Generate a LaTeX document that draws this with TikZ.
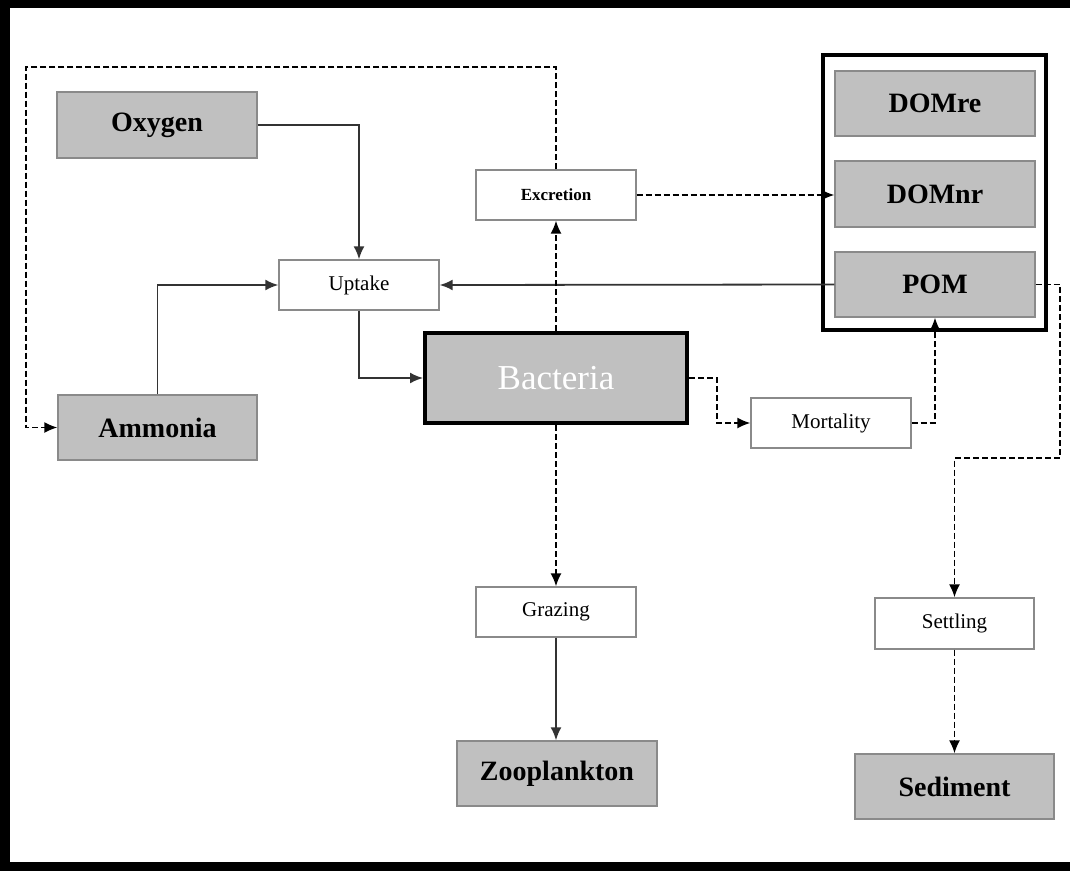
\documentclass[tikz,border=0pt]{standalone}
\usepackage{fontspec}
\setmainfont{Liberation Serif}
\usetikzlibrary{arrows.meta}
\definecolor{boxgray}{HTML}{C0C0C0}
\definecolor{edgegray}{HTML}{8A8A8A}
\definecolor{linegray}{HTML}{333333}
\tikzset{
  pool/.style={draw=edgegray, line width=1.4pt, fill=boxgray, inner sep=0pt,
    font=\fontsize{28}{30}\selectfont\bfseries},
  proc/.style={draw=edgegray, line width=1.4pt, fill=white, inner sep=0pt,
    minimum width=160pt, minimum height=50pt, font=\fontsize{21}{23}\selectfont},
  flow/.style={line width=1.8pt, draw=linegray, -{Latex[length=13pt,width=11pt]}},
  dflow/.style={line width=1.5pt, draw=black, dash pattern=on 6pt off 3pt, -{Latex[length=13pt,width=11pt]}}
}
\begin{document}
\begin{tikzpicture}[x=1pt, y=-1pt]
\useasboundingbox (0,0) rectangle (1070,871);
\fill[white] (0,0) rectangle (1070,871);
% outer frame bars
\fill[black] (0,0) rectangle (1070,8);
\fill[black] (0,0) rectangle (10,871);
\fill[black] (0,862) rectangle (1070,871);

% container
\node[draw=black, line width=4pt, minimum width=223pt, minimum height=275pt, inner sep=0pt] (cont) at (934.5,192.5) {};
\node[pool, minimum width=200pt, minimum height=65pt] (domre) at (935,103.5) {DOMre};
\node[pool, minimum width=200pt, minimum height=66pt] (domnr) at (935,194) {DOMnr};
\node[pool, minimum width=200pt, minimum height=65pt] (pom) at (935,284.5) {POM};

% pools
\node[pool, minimum width=200pt, minimum height=66pt] (oxy) at (157,125) {Oxygen};
\node[pool, minimum width=199pt, minimum height=65pt] (amm) at (157.5,427.5) {Ammonia};
\node[pool, minimum width=200pt, minimum height=65pt] (zoo) at (557,773.5) {Zooplankton};
\node[pool, minimum width=199pt, minimum height=65pt] (sed) at (954.5,786.5) {Sediment};
\node[draw=black, line width=4pt, fill=boxgray, inner sep=0pt, minimum width=262pt, minimum height=90pt,
  text=white, font=\fontsize{35}{38}\selectfont] (bac) at (556,378) {Bacteria};

% processes
\node[proc] (upt) at (359,285) {Uptake};
\node[proc, font=\fontsize{17}{19}\selectfont\bfseries] (exc) at (556,195) {Excretion};
\node[proc] (mort) at (831,423) {Mortality};
\node[proc] (graz) at (556,612) {Grazing};
\node[proc, minimum width=159pt, minimum height=51pt] (set) at (954.5,623.5) {Settling};

% helper coordinates
\coordinate (tl) at (26,67);
\coordinate (bk) at (717,400);
\coordinate (rt) at (1060,458);

% solid connectors
\draw[flow] (oxy.east) -| (upt.north);
\draw[flow] (amm.north) |- (upt.west);
\draw[flow] (upt.south) |- (bac.west);
\draw[flow] (pom.west) -- (upt.east);
\draw[flow] (graz.south) -- (zoo.north -| graz.south);

% dashed connectors
\draw[dflow] (bac.north) -- (exc.south);
\draw[dflow] (exc.north) |- (tl) |- (amm.west);
\draw[dflow] (exc.east) -- (exc.east -| domnr.west);
\draw[dflow] (bac.east) -| (bk) |- (mort.west);
\draw[dflow] (mort.east) -| (pom.south);
\draw[dflow] (pom.east) -| (rt) -| (set.north);
\draw[dflow] (bac.south) -- (graz.north);
\draw[dflow] (set.south) -- (set.south |- sed.north);
\end{tikzpicture}
\end{document}
